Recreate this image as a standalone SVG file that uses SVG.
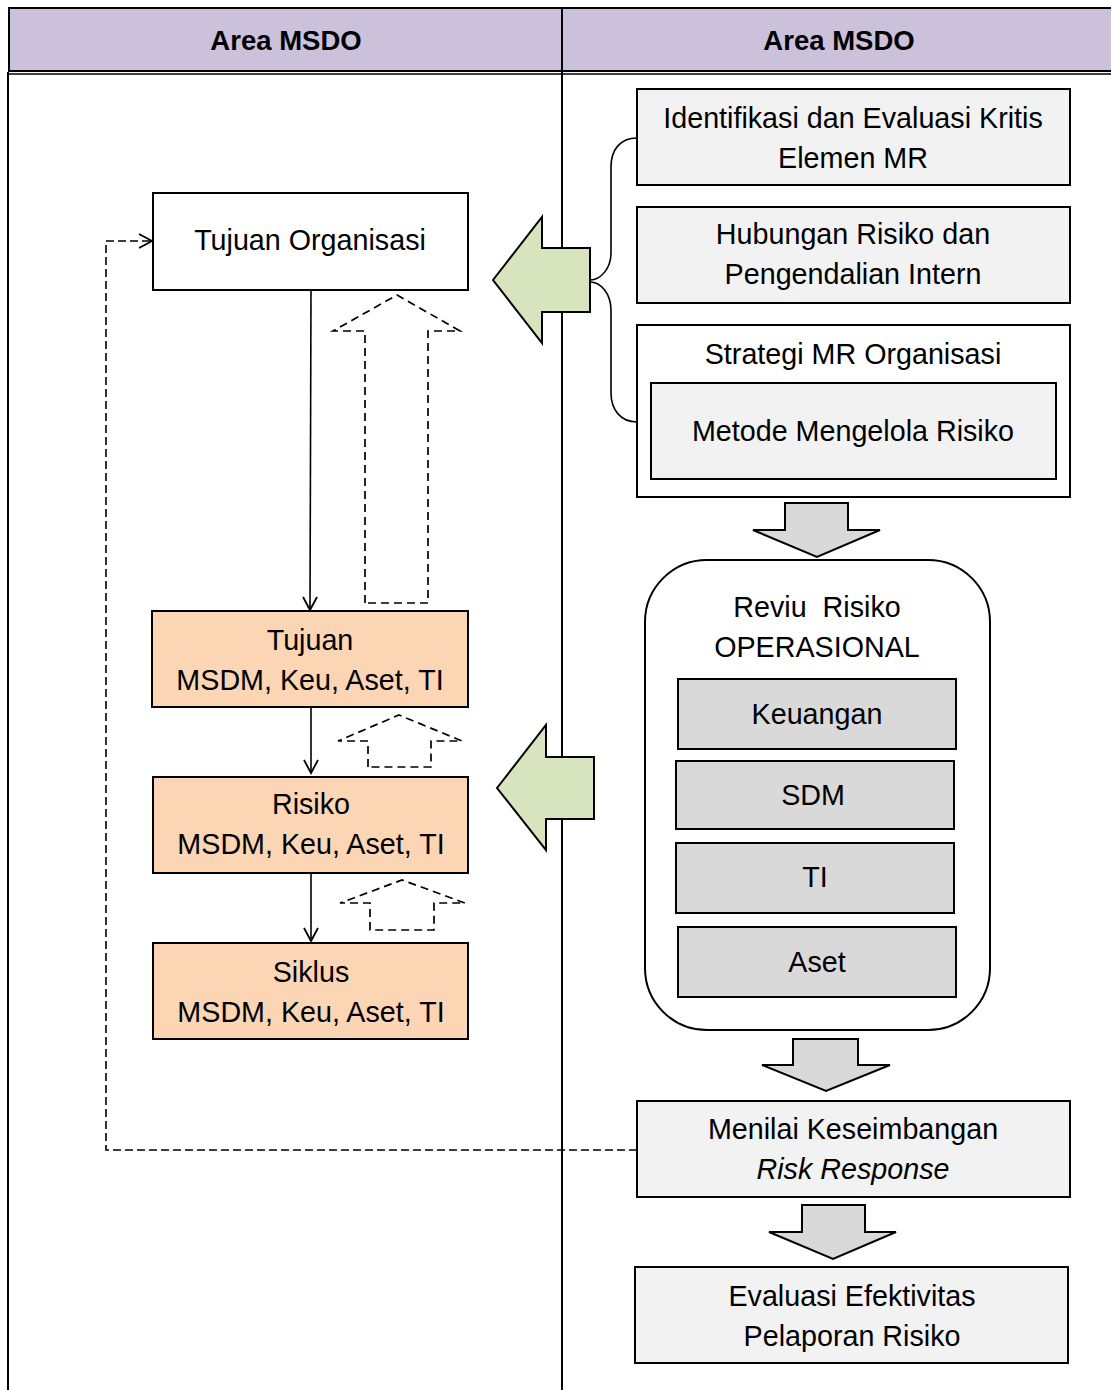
<svg xmlns="http://www.w3.org/2000/svg" width="1111" height="1390" viewBox="0 0 1111 1390">
<style>
text{font-family:"Liberation Sans",Arial,sans-serif;font-size:28.7px;fill:#000;text-anchor:middle}
.hdr{font-weight:bold;font-size:27.5px}
.box{stroke:#000;stroke-width:2}
.white{fill:#fff}
.light{fill:#F2F2F2}
.gray{fill:#D9D9D9}
.peach{fill:#FCD5B5}
.green{fill:#D7E4BD;stroke:#000;stroke-width:2}
.garrow{fill:#D9D9D9;stroke:#000;stroke-width:2}
.line{fill:none;stroke:#000;stroke-width:1.6}
.dash{fill:none;stroke:#000;stroke-width:1.7;stroke-dasharray:8 5}
.fdash{fill:none;stroke:#000;stroke-width:1.6;stroke-dasharray:8 4}
</style>
<defs>
<marker id="open" viewBox="0 0 16 16" refX="14" refY="8" markerWidth="16" markerHeight="16" markerUnits="userSpaceOnUse" orient="auto">
<path d="M1,1 L14,8 L1,15" fill="none" stroke="#000" stroke-width="1.8"/>
</marker>
</defs>
<rect width="1111" height="1390" fill="#fff"/>
<g id="lanes">
<rect x="9" y="8" width="1104" height="63" fill="#CCC1DA" stroke="#000" stroke-width="2"/>
<line x1="9" y1="74" x2="1111" y2="74" stroke="#000" stroke-width="1.5"/>
<line x1="8" y1="72" x2="8" y2="1390" stroke="#000" stroke-width="2"/>
<line x1="562" y1="7" x2="562" y2="1390" stroke="#000" stroke-width="2"/>
<text class="hdr" x="286" y="50">Area MSDO</text>
<text class="hdr" x="839" y="50">Area MSDO</text>
</g>
<g id="connectors">
<path class="line" d="M311,290 L310,610" marker-end="url(#open)"/>
<path class="line" d="M311,707 L311,773" marker-end="url(#open)"/>
<path class="line" d="M311,873 L311,941" marker-end="url(#open)"/>
<path class="fdash" d="M637,1150 L106,1150 L106,241 L152,241" marker-end="url(#open)"/>
<path class="line" d="M637,138 C620,138 611,150 611,167 L611,253 C611,268 601,280 590,280 M590,282 C601,282 611,294 611,310 L611,393 C611,410 621,422 637,422"/>
<path class="dash" d="M365,603 L365,331 L333,331 L397,295 L460,331 L428,331 L428,603 Z"/>
<path class="dash" d="M368,767 L368,741 L338,741 L399,715 L462,741 L431,741 L431,767 Z"/>
<path class="dash" d="M370,930 L370,903 L340,903 L402,880 L465,903 L434,903 L434,930 Z"/>
<path class="green" d="M493,280 L542,217 L542,248 L590,248 L590,312 L542,312 L542,343 Z"/>
<path class="green" d="M497,788 L546,725 L546,757 L594,757 L594,819 L546,819 L546,850 Z"/>
<path class="garrow" d="M785,503 L848,503 L848,530 L880,530 L817,557 L753,530 L785,530 Z"/>
<path class="garrow" d="M793,1039 L858,1039 L858,1065 L890,1065 L826,1091 L762,1065 L793,1065 Z"/>
<path class="garrow" d="M802,1205 L865,1205 L865,1232 L896,1232 L833,1259 L769,1232 L802,1232 Z"/>
</g>
<g id="tujuan-organisasi">
<rect class="box white" x="153" y="193" width="315" height="97"/>
<text x="310" y="250">Tujuan Organisasi</text>
</g>
<g id="tujuan-msdm">
<rect class="box peach" x="152" y="611" width="316" height="96"/>
<text x="310" y="650">Tujuan</text>
<text x="310" y="690">MSDM, Keu, Aset, TI</text>
</g>
<g id="risiko-msdm">
<rect class="box peach" x="153" y="777" width="315" height="96"/>
<text x="311" y="814">Risiko</text>
<text x="311" y="854">MSDM, Keu, Aset, TI</text>
</g>
<g id="siklus-msdm">
<rect class="box peach" x="153" y="943" width="315" height="96"/>
<text x="311" y="982">Siklus</text>
<text x="311" y="1022">MSDM, Keu, Aset, TI</text>
</g>
<g id="identifikasi">
<rect class="box light" x="637" y="89" width="433" height="96"/>
<text x="853" y="128">Identifikasi dan Evaluasi Kritis</text>
<text x="853" y="168">Elemen MR</text>
</g>
<g id="hubungan">
<rect class="box light" x="637" y="207" width="433" height="96"/>
<text x="853" y="244">Hubungan Risiko dan</text>
<text x="853" y="284">Pengendalian Intern</text>
</g>
<g id="strategi">
<rect class="box white" x="637" y="325" width="433" height="172"/>
<text x="853" y="364">Strategi MR Organisasi</text>
</g>
<g id="metode">
<rect class="box light" x="651" y="383" width="405" height="96"/>
<text x="853" y="441">Metode Mengelola Risiko</text>
</g>
<g id="reviu">
<rect class="box white" x="645" y="560" width="345" height="470" rx="62" ry="62"/>
<text x="817" y="617" style="white-space:pre">Reviu  Risiko</text>
<text x="817" y="657">OPERASIONAL</text>
</g>
<g id="keuangan">
<rect class="box gray" x="678" y="679" width="278" height="70"/>
<text x="817" y="724">Keuangan</text>
</g>
<g id="sdm">
<rect class="box gray" x="676" y="761" width="278" height="68"/>
<text x="813" y="805">SDM</text>
</g>
<g id="ti">
<rect class="box gray" x="676" y="843" width="278" height="70"/>
<text x="815" y="887">TI</text>
</g>
<g id="aset">
<rect class="box gray" x="678" y="927" width="278" height="70"/>
<text x="817" y="972">Aset</text>
</g>
<g id="menilai">
<rect class="box light" x="637" y="1101" width="433" height="96"/>
<text x="853" y="1139">Menilai Keseimbangan</text>
<text x="853" y="1179" font-style="italic">Risk Response</text>
</g>
<g id="evaluasi">
<rect class="box light" x="635" y="1267" width="433" height="96"/>
<text x="852" y="1306">Evaluasi Efektivitas</text>
<text x="852" y="1346">Pelaporan Risiko</text>
</g>
</svg>
